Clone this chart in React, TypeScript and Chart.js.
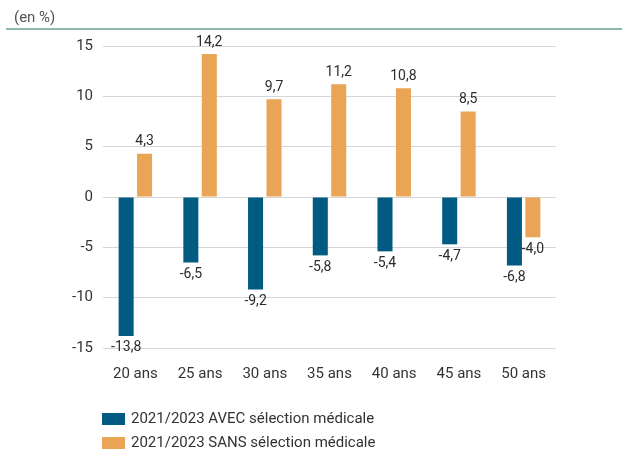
import React, { useEffect, useRef } from "react";
import { Chart, registerables } from "chart.js";

Chart.register(...registerables);

const categories = ["20 ans", "25 ans", "30 ans", "35 ans", "40 ans", "45 ans", "50 ans"];
const avecValues = [-13.8, -6.5, -9.2, -5.8, -5.4, -4.7, -6.8];
const sansValues = [4.3, 14.2, 9.7, 11.2, 10.8, 8.5, -4.0];
const seriesLabels = ["2021/2023 AVEC sélection médicale", "2021/2023 SANS sélection médicale"];
const seriesColors = ["#005a82", "#e9a455"];
const yTicks = { min: -15, max: 15, step: 5 };
const unitLabel = "(en %)";

const FONT = "Roboto, 'Liberation Sans', sans-serif";

const headerPlugin = {
  id: "header",
  afterDraw(chart: any) {
    const ctx = chart.ctx;
    ctx.save();
    ctx.fillStyle = "#555555";
    ctx.font = `15px ${FONT}`;
    ctx.textAlign = "left";
    ctx.textBaseline = "middle";
    ctx.fillText(unitLabel, 14, 18);
    ctx.strokeStyle = "#8cb9a9";
    ctx.lineWidth = 2;
    ctx.beginPath();
    ctx.moveTo(6, 29);
    ctx.lineTo(chart.width, 29);
    ctx.stroke();
    ctx.restore();
  },
};

const valueLabelPlugin = {
  id: "valueLabels",
  afterDatasetsDraw(chart: any) {
    const ctx = chart.ctx;
    ctx.save();
    ctx.fillStyle = "#2b2b2b";
    ctx.font = `14px ${FONT}`;
    ctx.textAlign = "center";
    chart.data.datasets.forEach((ds: any, di: number) => {
      const meta = chart.getDatasetMeta(di);
      meta.data.forEach((el: any, i: number) => {
        const v = ds.data[i];
        const txt = v.toFixed(1).replace(".", ",");
        if (v >= 0) {
          ctx.textBaseline = "bottom";
          ctx.fillText(txt, el.x, el.y - 5);
        } else {
          ctx.textBaseline = "top";
          ctx.fillText(txt, el.x, el.y + 5);
        }
      });
    });
    ctx.restore();
  },
};

const legendPlugin = {
  id: "customLegend",
  afterDraw(chart: any) {
    const ctx = chart.ctx;
    ctx.save();
    ctx.font = `15px ${FONT}`;
    ctx.textAlign = "left";
    ctx.textBaseline = "middle";
    chart.data.datasets.forEach((ds: any, i: number) => {
      const y = 419 + i * 24;
      ctx.fillStyle = ds.backgroundColor;
      ctx.fillRect(102, y - 6, 23, 12);
      ctx.fillStyle = "#333333";
      ctx.fillText(ds.label, 131, y);
    });
    ctx.restore();
  },
};

export default function App() {
  const ref = useRef<HTMLCanvasElement | null>(null);
  useEffect(() => {
    if (!ref.current) return;
    const chart = new Chart(ref.current, {
      type: "bar",
      data: {
        labels: categories,
        datasets: [
          {
            label: seriesLabels[0],
            data: avecValues,
            backgroundColor: seriesColors[0],
            barPercentage: 0.815,
            categoryPercentage: 0.57,
          },
          {
            label: seriesLabels[1],
            data: sansValues,
            backgroundColor: seriesColors[1],
            barPercentage: 0.815,
            categoryPercentage: 0.57,
          },
        ],
      },
      options: {
        animation: false,
        responsive: false,
        devicePixelRatio: 1,
        layout: { padding: { top: 46, right: 66, bottom: 55, left: 0 } },
        plugins: {
          legend: { display: false },
          tooltip: { enabled: false },
          title: { display: false },
        },
        scales: {
          x: {
            grid: { display: false },
            border: { display: false },
            ticks: {
              color: "#333333",
              font: { family: FONT, size: 15 },
              padding: 9,
            },
            afterFit: (s: any) => {
              s.height = 50;
            },
          },
          y: {
            min: yTicks.min,
            max: yTicks.max,
            grid: { color: "#d6d6d6", lineWidth: 1, drawTicks: false },
            border: { display: false },
            ticks: {
              stepSize: yTicks.step,
              color: "#333333",
              font: { family: FONT, size: 15 },
              padding: 10,
            },
            afterFit: (s: any) => {
              s.width = 103;
            },
          },
        },
      },
      plugins: [headerPlugin, valueLabelPlugin, legendPlugin],
    });
    return () => chart.destroy();
  }, []);
  return (
    <div style={{ position: "fixed", left: 0, top: 0, width: 622, height: 453, background: "#fff" }}>
      <canvas ref={ref} width={622} height={453} style={{ width: 622, height: 453, display: "block" }} />
    </div>
  );
}
